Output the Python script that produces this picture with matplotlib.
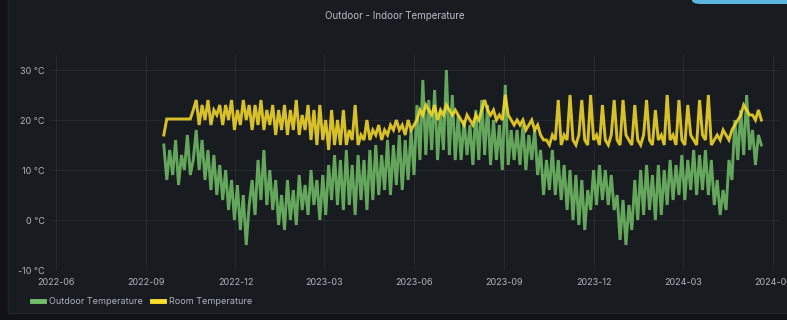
import matplotlib
matplotlib.use("Agg")
import matplotlib.pyplot as plt
from matplotlib.patches import FancyBboxPatch, Rectangle
from matplotlib.lines import Line2D
import pandas as pd

# ---------------- data (3-day samples) ----------------
start_date = "2022-09-19"
step = "3D"

outdoor = [
    15, 8, 14, 9, 16, 7, 13, 10, 17, 9,
    12, 18, 10, 16, 8, 14, 6, 13, 5, 11,
    4, 10, 2, 8, 0, 7, -2, 5, -5, 3,
    8, 1, 12, 4, 14, 3, 10, 2, 8, -1,
    5, -2, 8, 0, 6, -1, 9, 2, 7, 1,
    10, 3, 8, 0, 9, 1, 11, 4, 13, 3,
    12, 2, 14, 3, 11, 1, 13, 4, 12, 2,
    14, 4, 15, 5, 13, 6, 16, 5, 15, 7,
    17, 6, 16, 8, 18, 9, 23, 12, 28, 13,
    24, 14, 26, 12, 22, 14, 30, 13, 25, 12,
    21, 12, 20, 13, 19, 11, 22, 12, 24, 13,
    23, 11, 20, 12, 19, 10, 27, 11, 18, 12,
    18, 11, 19, 10, 17, 12, 18, 9, 14, 5,
    12, 6, 14, 5, 12, 4, 11, 2, 10, 0,
    9, -1, 8, -2, 6, 2, 10, 3, 11, 4,
    10, 3, 9, 2, 5, -4, 4, -5, 3, -2,
    8, 0, 10, 1, 11, 2, 9, 0, 11, 1,
    10, 3, 12, 4, 11, 5, 13, 4, 12, 6,
    14, 5, 13, 6, 14, 5, 12, 3, 8, 1,
    6, 2, 12, 8, 20, 12, 22, 13, 25, 14,
    18, 11, 17, 15,
]

room = [
    17, 20.2, 20.2, 20.2, 20.2, 20.2, 20.2, 20.2, 20.2, 20.2,
    22, 24, 19, 23, 20, 24, 19, 22, 21, 23,
    19, 23, 20, 24, 18, 22, 19, 24, 20, 23,
    18, 23, 19, 24, 18, 22, 19, 23, 17, 22,
    18, 23, 17, 22, 18, 24, 17, 21, 18, 23,
    16, 22, 15, 23, 16, 20, 14, 22, 15, 20,
    15, 22, 15, 18, 16, 23, 15, 17, 16, 20,
    16, 18, 17, 19, 16, 18, 17, 19, 18, 20,
    18, 19, 17, 20, 18, 19, 20, 22, 21, 23,
    22, 21, 23, 20, 22, 21, 23, 22, 21, 22,
    21, 20, 19, 21, 20, 19, 21, 20, 22, 24,
    22, 21, 22, 20, 21, 20, 25, 21, 20, 19,
    20, 19, 20, 18, 19, 20, 18, 19, 17, 16,
    16, 15, 17, 16, 24, 15, 17, 16, 25, 16,
    15, 17, 24, 16, 15, 25, 16, 17, 15, 23,
    16, 15, 17, 24, 16, 15, 24, 17, 16, 15,
    23, 16, 15, 17, 24, 16, 15, 22, 16, 17,
    15, 25, 16, 17, 15, 24, 16, 15, 23, 17,
    16, 15, 24, 17, 16, 25, 15, 16, 17, 16,
    18, 17, 16, 18, 19, 20, 21, 23, 22, 21,
    21, 20, 22, 20,
]

series_names = ["Outdoor Temperature", "Room Temperature"]
y_ticks = [-10, 0, 10, 20, 30]
x_tick_dates = ["2022-06-01", "2022-09-01", "2022-12-01", "2023-03-01",
                "2023-06-01", "2023-09-01", "2023-12-01", "2024-03-01", "2024-06-01"]
x_tick_labels = ["2022-06", "2022-09", "2022-12", "2023-03",
                 "2023-06", "2023-09", "2023-12", "2024-03", "2024-06"]
title = "Outdoor - Indoor Temperature"

# ---------------- styling ----------------
plt.rcParams["font.family"] = ["Inter", "DejaVu Sans"]
BG_OUT = "#111217"
BG_PANEL = "#181b1f"
TXT = "#c7d0d9"
GREEN = "#73BF69"
YELLOW = "#FADE2A"

W, H = 787, 320
fig = plt.figure(figsize=(W / 100, H / 100), dpi=100, facecolor=BG_OUT)

# panel background
fig.patches.append(Rectangle((8 / W, 7 / H), 1, 1, transform=fig.transFigure,
                             facecolor=BG_PANEL, edgecolor="#202226", lw=1, zorder=-10))
# blue button fragment at top right
fig.patches.append(FancyBboxPatch((692 / W, 316 / H), 120 / W, 20 / H,
                                  boxstyle="round,pad=0,rounding_size=0.012",
                                  transform=fig.transFigure, facecolor="#5ab8dc",
                                  edgecolor="none", zorder=5))

ax = fig.add_axes([50 / W, 50 / H, 730 / W, 215 / H])
ax.set_facecolor(BG_PANEL)

dates_out = pd.date_range(start_date, periods=len(outdoor), freq=step)
dates_room = pd.date_range(start_date, periods=len(room), freq=step)
ax.plot(dates_out, outdoor, color=GREEN, lw=2.1, alpha=0.85, solid_joinstyle="miter")
ax.plot(dates_room, room, color=YELLOW, lw=2.1, alpha=0.85, solid_joinstyle="miter")

ax.set_xlim(pd.Timestamp("2022-05-26"), pd.Timestamp("2024-06-08"))
ax.set_ylim(-10, 33)
ax.set_yticks(y_ticks)
ax.set_yticklabels([f"{v} °C" for v in y_ticks])
ax.set_xticks(pd.to_datetime(x_tick_dates))
ax.set_xticklabels(x_tick_labels)

for s in ax.spines.values():
    s.set_visible(False)
ax.tick_params(axis="both", length=0, colors=TXT, labelsize=6.5)
ax.tick_params(axis="x", pad=6)
ax.tick_params(axis="y", pad=4)
for lbl in ax.get_xticklabels() + ax.get_yticklabels():
    lbl.set_alpha(0.85)
ax.grid(True, color="#ccccdc", alpha=0.08, lw=0.8)

fig.text(395 / W, 1 - 16 / H, title, ha="center", va="center",
         color=TXT, fontsize=7, alpha=0.9)

handles = [Line2D([], [], color=GREEN, lw=3.5), Line2D([], [], color=YELLOW, lw=3.5)]
leg = fig.legend(handles, series_names, loc="center left",
                 bbox_to_anchor=(24 / W, 1 - 302 / H), ncol=2, frameon=False,
                 fontsize=6.5, handlelength=1.3, handletextpad=0.6, columnspacing=1.0,
                 labelcolor=TXT)
for t in leg.get_texts():
    t.set_alpha(0.85)

fig.savefig("out.png", dpi=100, facecolor=BG_OUT)
